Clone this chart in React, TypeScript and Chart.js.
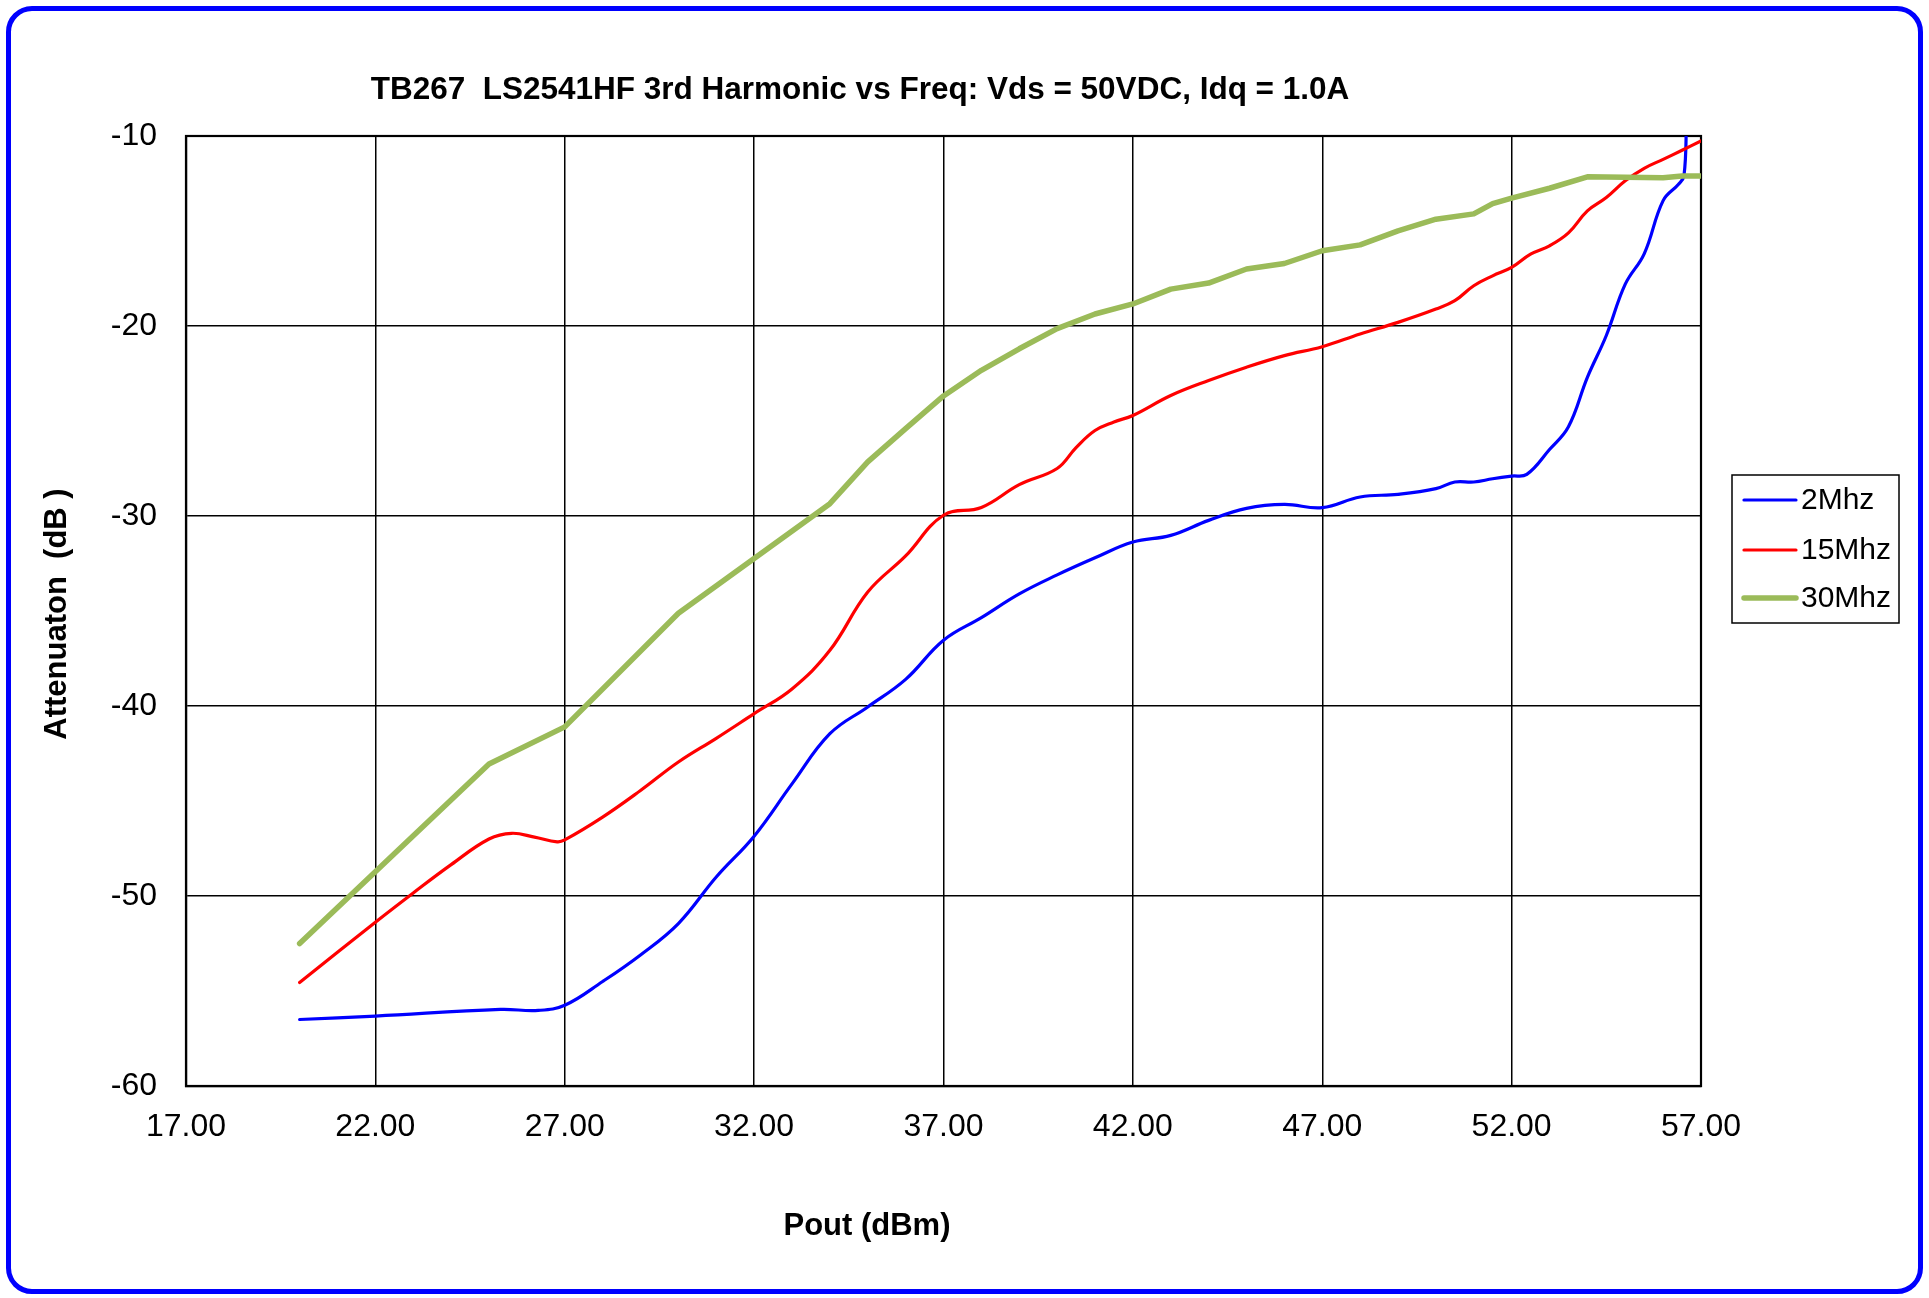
import React, { useEffect, useRef } from "react";
import { Chart, registerables } from "chart.js";

Chart.register(...registerables);

const FONT = '"Liberation Sans", Arial, sans-serif';

const TITLE = "TB267  LS2541HF 3rd Harmonic vs Freq: Vds = 50VDC, Idq = 1.0A";
const X_TITLE = "Pout (dBm)";
const Y_TITLE = "Attenuaton  (dB )";
const SERIES_NAMES = ["2Mhz", "15Mhz", "30Mhz"];
const SERIES_COLORS = ["#0000FF", "#FF0000", "#9BBB59"];

const X_MIN = 17;
const X_MAX = 57;
const X_STEP = 5;
const Y_MIN = -60;
const Y_MAX = -10;
const Y_STEP = 10;

// 2 MHz
const pout2 = [20, 22, 25.3, 26.3, 27, 28, 29, 30, 31, 32, 33, 34, 35, 36, 37, 38, 39, 40, 41, 42, 43, 44, 45, 46, 47, 48, 49, 50, 50.5, 51, 51.5, 52, 52.4, 53, 53.5, 54, 54.5, 55, 55.5, 56, 56.4, 56.55, 56.62];
const att2 = [-56.5, -56.32, -55.97, -56.02, -55.75, -54.5, -53.1, -51.45, -49.0, -46.85, -44.1, -41.46, -40.05, -38.6, -36.54, -35.35, -34.1, -33.1, -32.2, -31.37, -31.02, -30.23, -29.6, -29.39, -29.56, -29.0, -28.86, -28.56, -28.21, -28.21, -28.04, -27.9, -27.81, -26.5, -25.3, -22.7, -20.5, -17.8, -16.2, -13.4, -12.55, -12.1, -9.0];

// 15 MHz
const pout15 = [20, 22, 23, 24, 25, 25.6, 26.2, 26.8, 27, 28, 29, 30, 31, 32, 33, 34, 35, 36, 37, 38, 39, 40, 40.5, 41, 41.5, 42, 43, 44, 45, 46, 47, 48, 49, 50, 50.5, 51, 51.5, 52, 52.5, 53, 53.5, 54, 54.5, 55, 55.5, 56, 56.5, 57];
const att15 = [-54.55, -51.38, -49.84, -48.35, -47.0, -46.7, -46.9, -47.15, -47.05, -45.85, -44.45, -42.95, -41.7, -40.4, -39.1, -37.07, -34.0, -32.1, -29.96, -29.55, -28.35, -27.5, -26.4, -25.5, -25.05, -24.71, -23.66, -22.87, -22.17, -21.56, -21.09, -20.42, -19.81, -19.11, -18.67, -17.88, -17.36, -16.92, -16.22, -15.78, -15.1, -13.94, -13.24, -12.36, -11.7, -11.23, -10.75, -10.26];

// 30 MHz
const pout30 = [20, 25, 27, 30, 34, 35, 36, 37, 38, 39, 40, 41, 42, 43, 44, 45, 46, 47, 48, 49, 50, 51, 51.5, 52, 53, 54, 55, 56, 56.5, 57];
const att30 = [-52.5, -43.05, -41.1, -35.12, -29.35, -27.15, -25.4, -23.68, -22.33, -21.2, -20.14, -19.37, -18.84, -18.06, -17.74, -17.0, -16.71, -16.04, -15.73, -14.99, -14.38, -14.1, -13.56, -13.27, -12.75, -12.15, -12.17, -12.2, -12.1, -12.1];

const SERIES_X = [pout2, pout15, pout30];
const SERIES_Y = [att2, att15, att30];
const SERIES_WIDTH = [3.2, 3.2, 5.5];
const SERIES_TENSION = [0.4, 0.4, 0];

const overlayPlugin = {
  id: "overlayText",
  beforeDatasetsDraw(chart: any) {
    const { ctx, chartArea } = chart;
    ctx.save();
    ctx.strokeStyle = "#000";
    ctx.lineWidth = 2.2;
    ctx.strokeRect(chartArea.left, chartArea.top, chartArea.right - chartArea.left, chartArea.bottom - chartArea.top);
    ctx.restore();
  },
  afterDraw(chart: any) {
    const ctx = chart.ctx;
    ctx.save();
    ctx.fillStyle = "#000";
    ctx.textAlign = "center";
    ctx.textBaseline = "middle";
    ctx.font = `bold 31.5px ${FONT}`;
    ctx.fillText(TITLE, 860, 90);
    ctx.font = `bold 31px ${FONT}`;
    ctx.fillText(X_TITLE, 867, 1226);
    ctx.save();
    ctx.translate(57, 614);
    ctx.rotate(-Math.PI / 2);
    ctx.fillText(Y_TITLE, 0, 0);
    ctx.restore();

    // legend
    ctx.strokeStyle = "#000";
    ctx.lineWidth = 1.5;
    ctx.strokeRect(1732, 475, 167, 148);
    const rows = [500, 550, 598];
    ctx.font = `30px ${FONT}`;
    ctx.textAlign = "left";
    SERIES_NAMES.forEach((name, i) => {
      ctx.beginPath();
      ctx.strokeStyle = SERIES_COLORS[i];
      ctx.lineWidth = SERIES_WIDTH[i];
      ctx.lineCap = "round";
      ctx.moveTo(1744, rows[i]);
      ctx.lineTo(1796, rows[i]);
      ctx.stroke();
      ctx.fillStyle = "#000";
      ctx.fillText(name, 1801, rows[i] + 1);
    });
    ctx.restore();
  },
};

export default function App() {
  const canvasRef = useRef<HTMLCanvasElement | null>(null);

  useEffect(() => {
    if (!canvasRef.current) return;
    const datasets = SERIES_NAMES.map((name, i) => ({
      label: name,
      data: SERIES_X[i].map((x, j) => ({ x, y: SERIES_Y[i][j] })),
      borderColor: SERIES_COLORS[i],
      backgroundColor: SERIES_COLORS[i],
      borderWidth: SERIES_WIDTH[i],
      pointRadius: 0,
      tension: SERIES_TENSION[i],
      fill: false,
      order: 3 - i,
      borderJoinStyle: "round" as const,
      borderCapStyle: "round" as const,
    }));

    const chart = new Chart(canvasRef.current, {
      type: "line",
      data: { datasets },
      plugins: [overlayPlugin],
      options: {
        animation: false,
        responsive: false,
        maintainAspectRatio: false,
        layout: { padding: { top: 136, left: 0, right: 228, bottom: 0 } },
        plugins: {
          legend: { display: false },
          title: { display: false },
          tooltip: { enabled: false },
        },
        scales: {
          x: {
            type: "linear",
            min: X_MIN,
            max: X_MAX,
            afterFit: (scale: any) => {
              scale.height = 212;
            },
            afterBuildTicks: (scale: any) => {
              const t = [];
              for (let v = X_MIN; v <= X_MAX + 1e-9; v += X_STEP) t.push({ value: v });
              scale.ticks = t;
            },
            ticks: {
              color: "#000",
              font: { family: FONT, size: 32 },
              padding: 22,
              maxRotation: 0,
              autoSkip: false,
              callback: (v: any) => Number(v).toFixed(2),
            },
            grid: { color: "#000", lineWidth: 1.5, drawTicks: false },
            border: { display: true, color: "#000", width: 2.2 },
          },
          y: {
            type: "linear",
            min: Y_MIN,
            max: Y_MAX,
            afterFit: (scale: any) => {
              scale.width = 186;
            },
            ticks: {
              stepSize: Y_STEP,
              color: "#000",
              font: { family: FONT, size: 32 },
              padding: 29,
              callback: (v: any) => String(v),
            },
            grid: { color: "#000", lineWidth: 1.5, drawTicks: false },
            border: { display: true, color: "#000", width: 2.2 },
          },
        },
      },
    });
    return () => chart.destroy();
  }, []);

  return (
    <div style={{ position: "fixed", left: 0, top: 0, width: 1929, height: 1298, background: "#fff" }}>
      <canvas ref={canvasRef} width={1929} height={1298} style={{ position: "absolute", left: 0, top: 0, width: 1929, height: 1298 }} />
      <div
        style={{
          position: "absolute",
          left: 6,
          top: 6,
          width: 1917,
          height: 1288,
          boxSizing: "border-box",
          border: "5px solid #0000FF",
          borderRadius: 26,
          pointerEvents: "none",
        }}
      />
    </div>
  );
}
